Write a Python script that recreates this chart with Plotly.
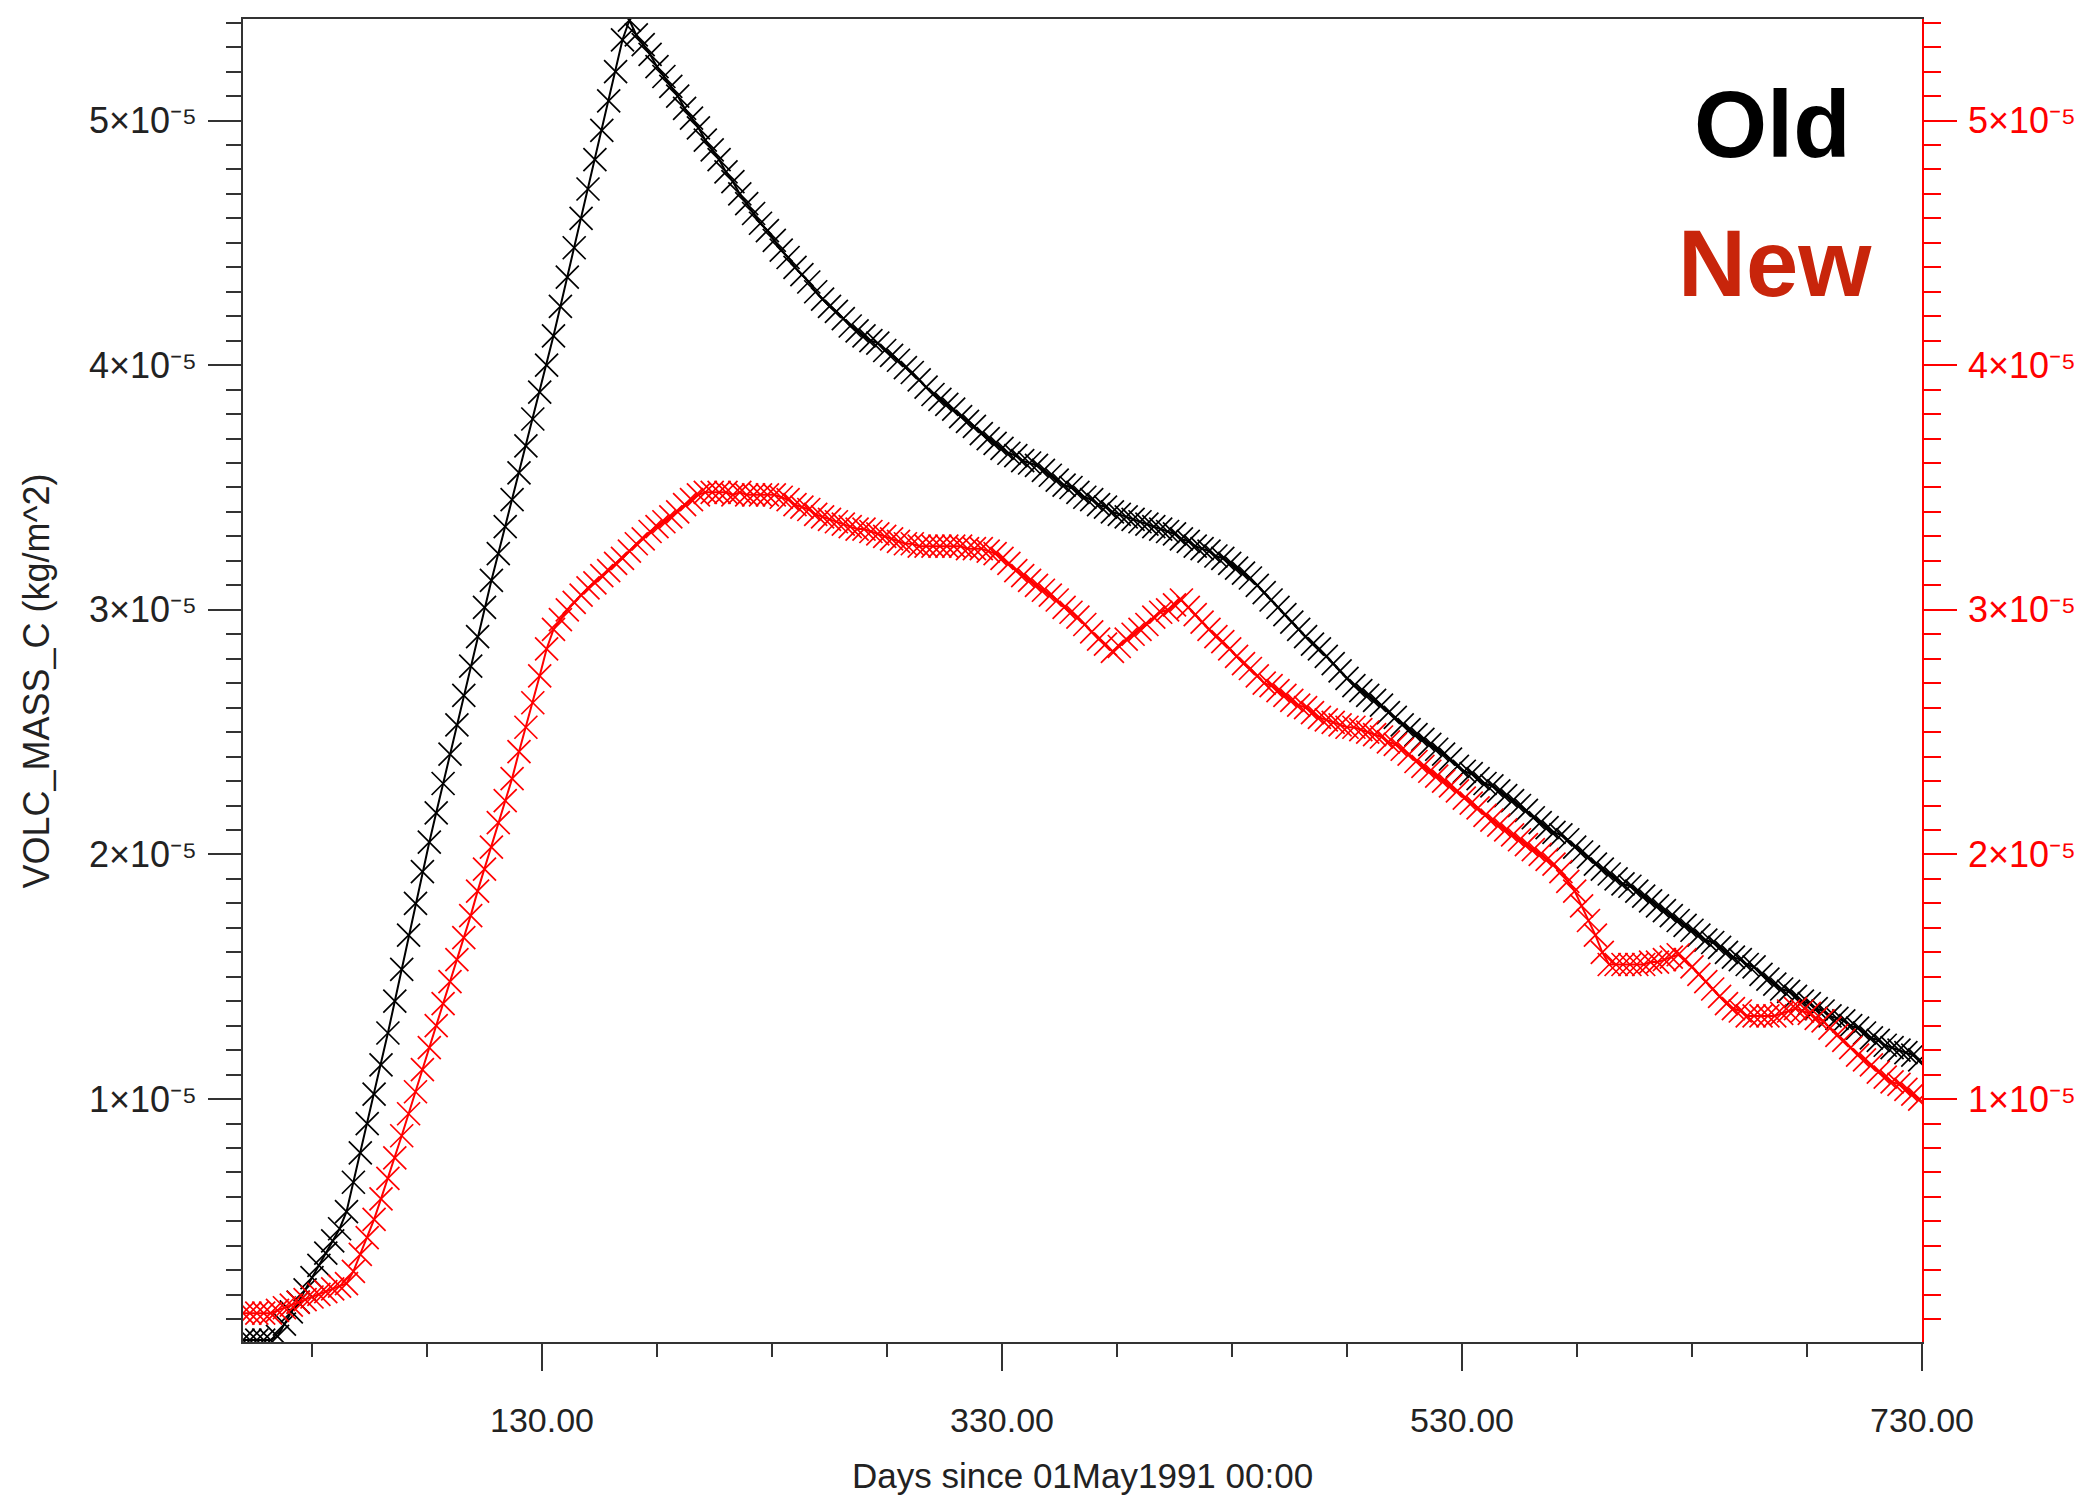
import plotly.graph_objects as go

# values in units of 1e-5 kg/m^2, sampled every 3 days starting at day 0
old_vals = [
    0.015, 0.015, 0.015, 0.015, 0.015, 0.03, 0.08, 0.13, 0.17, 0.22,
    0.27, 0.32, 0.37, 0.42, 0.47, 0.54, 0.66, 0.78, 0.90, 1.02,
    1.14, 1.27, 1.40, 1.53, 1.67, 1.80, 1.93, 2.05, 2.17, 2.29,
    2.41, 2.53, 2.65, 2.77, 2.89, 3.01, 3.12, 3.23, 3.34, 3.45,
    3.56, 3.67, 3.78, 3.89, 4.00, 4.12, 4.24, 4.36, 4.48, 4.60,
    4.72, 4.84, 4.96, 5.08, 5.20, 5.33, 5.41, 5.35, 5.31, 5.27,
    5.22, 5.18, 5.14, 5.10, 5.05, 5.01, 4.97, 4.92, 4.88, 4.84,
    4.79, 4.75, 4.70, 4.66, 4.62, 4.58, 4.55, 4.51, 4.47, 4.44,
    4.40, 4.37, 4.34, 4.30, 4.27, 4.24, 4.22, 4.19, 4.16, 4.14,
    4.12, 4.10, 4.09, 4.06, 4.04, 4.02, 3.99, 3.97, 3.94, 3.91,
    3.88, 3.86, 3.84, 3.82, 3.79, 3.77, 3.75, 3.72, 3.70, 3.68,
    3.66, 3.64, 3.63, 3.61, 3.60, 3.59, 3.57, 3.55, 3.53, 3.51,
    3.50, 3.48, 3.46, 3.45, 3.43, 3.42, 3.40, 3.39, 3.38, 3.37,
    3.36, 3.35, 3.34, 3.33, 3.32, 3.31, 3.29, 3.28, 3.26, 3.25,
    3.24, 3.22, 3.21, 3.19, 3.17, 3.15, 3.13, 3.10, 3.07, 3.04,
    3.01, 2.98, 2.95, 2.92, 2.89, 2.86, 2.84, 2.81, 2.78, 2.75,
    2.72, 2.69, 2.67, 2.65, 2.63, 2.61, 2.58, 2.56, 2.53, 2.51,
    2.49, 2.47, 2.45, 2.43, 2.41, 2.39, 2.36, 2.34, 2.33, 2.31,
    2.29, 2.28, 2.26, 2.24, 2.22, 2.20, 2.18, 2.15, 2.13, 2.11,
    2.09, 2.08, 2.06, 2.03, 2.01, 1.99, 1.96, 1.94, 1.92, 1.90,
    1.88, 1.87, 1.85, 1.83, 1.81, 1.79, 1.77, 1.75, 1.73, 1.71,
    1.69, 1.67, 1.65, 1.64, 1.62, 1.60, 1.58, 1.57, 1.55, 1.54,
    1.51, 1.49, 1.47, 1.45, 1.44, 1.42, 1.40, 1.39, 1.37, 1.36,
    1.34, 1.33, 1.32, 1.30, 1.29, 1.27, 1.25, 1.24, 1.22, 1.21,
    1.20, 1.19, 1.18, 1.16,
]

new_vals = [
    0.125, 0.125, 0.125, 0.125, 0.125, 0.136, 0.147, 0.158, 0.169, 0.18,
    0.191, 0.202, 0.213, 0.224, 0.235, 0.246, 0.296, 0.365, 0.434, 0.508,
    0.592, 0.676, 0.76, 0.85, 0.94, 1.03, 1.12, 1.21, 1.30, 1.39,
    1.48, 1.57, 1.66, 1.75, 1.85, 1.94, 2.03, 2.13, 2.22, 2.31,
    2.42, 2.52, 2.62, 2.73, 2.84, 2.92, 2.96, 3.00, 3.03, 3.06,
    3.09, 3.11, 3.14, 3.16, 3.19, 3.21, 3.24, 3.27, 3.29, 3.32,
    3.34, 3.36, 3.38, 3.40, 3.43, 3.45, 3.47, 3.48, 3.48, 3.48,
    3.48, 3.47, 3.48, 3.47, 3.47, 3.47, 3.47, 3.47, 3.46, 3.45,
    3.43, 3.42, 3.41, 3.39, 3.38, 3.37, 3.36, 3.35, 3.34, 3.33,
    3.33, 3.32, 3.31, 3.30, 3.29, 3.28, 3.27, 3.27, 3.26, 3.26,
    3.26, 3.26, 3.26, 3.26, 3.26, 3.25, 3.25, 3.25, 3.24, 3.23,
    3.21, 3.19, 3.16, 3.14, 3.12, 3.10, 3.08, 3.06, 3.04, 3.01,
    2.99, 2.97, 2.94, 2.91, 2.88, 2.86, 2.83, 2.85, 2.88, 2.90,
    2.92, 2.94, 2.97, 2.99, 3.00, 3.02, 3.04, 3.01, 2.98, 2.95,
    2.92, 2.89, 2.87, 2.84, 2.81, 2.78, 2.76, 2.73, 2.70, 2.69,
    2.67, 2.65, 2.63, 2.61, 2.60, 2.58, 2.56, 2.55, 2.54, 2.53,
    2.52, 2.52, 2.51, 2.50, 2.49, 2.48, 2.46, 2.45, 2.43, 2.41,
    2.38, 2.36, 2.34, 2.32, 2.30, 2.28, 2.26, 2.23, 2.21, 2.19,
    2.16, 2.14, 2.12, 2.10, 2.08, 2.06, 2.04, 2.02, 2.00, 1.98,
    1.96, 1.93, 1.89, 1.85, 1.79, 1.73, 1.67, 1.60, 1.55, 1.55,
    1.55, 1.55, 1.55, 1.55, 1.56, 1.56, 1.57, 1.58, 1.59, 1.57,
    1.54, 1.51, 1.48, 1.45, 1.42, 1.39, 1.37, 1.36, 1.34, 1.34,
    1.34, 1.34, 1.34, 1.35, 1.36, 1.37, 1.36, 1.35, 1.33, 1.32,
    1.29, 1.26, 1.24, 1.21, 1.18, 1.16, 1.14, 1.11, 1.09, 1.07,
    1.06, 1.04, 1.02, 1.00,
]

SCALE = 1e-5
old_days = [3 * i for i in range(len(old_vals))]
new_days = [3 * i for i in range(len(new_vals))]
old_y = [v * SCALE for v in old_vals]
new_y = [v * SCALE for v in new_vals]

x_tickvals = [130, 330, 530, 730]
x_ticktext = ["130.00", "330.00", "530.00", "730.00"]
y_tickvals = [1e-5, 2e-5, 3e-5, 4e-5, 5e-5]
y_ticktext = ["%d\u00d710\u207b\u2075" % k for k in range(1, 6)]

X_RANGE = [0, 730]
Y_RANGE = [0.007e-5, 5.415e-5]

FONT = "Liberation Sans, Arial, Helvetica, sans-serif"

fig = go.Figure()
fig.add_trace(go.Scatter(
    x=old_days, y=old_y, mode="lines+markers", name="Old",
    line=dict(color="black", width=2),
    marker=dict(symbol="x-thin-open", size=23, color="black",
                line=dict(color="black", width=1.7)),
    xaxis="x", yaxis="y", showlegend=False,
))
fig.add_trace(go.Scatter(
    x=new_days, y=new_y, mode="lines+markers", name="New",
    line=dict(color="#ff0000", width=2),
    marker=dict(symbol="x-thin-open", size=23, color="#ff0000",
                line=dict(color="#ff0000", width=1.7)),
    xaxis="x", yaxis="y2", showlegend=False,
))

axis_font = dict(family=FONT, size=34, color="#222222")
ytick_font = dict(family=FONT, size=36, color="#222222")

fig.update_layout(
    width=2083, height=1495,
    margin=dict(l=243, r=161, t=19, b=153, autoexpand=False),
    paper_bgcolor="white", plot_bgcolor="white",
    font=dict(family=FONT, size=34, color="#222222"),
    xaxis=dict(
        range=X_RANGE, tickmode="array", tickvals=x_tickvals, ticktext=x_ticktext,
        ticks="outside", ticklen=27, tickwidth=1.5, tickcolor="#333333",
        showline=True, linecolor="#333333", linewidth=2, mirror=True,
        showgrid=False, zeroline=False, automargin=False,
        tickfont=axis_font, ticklabelstandoff=20,
        minor=dict(tickmode="linear", tick0=30, dtick=50, ticks="outside", ticklen=13,
                   tickwidth=1.5, tickcolor="#333333", showgrid=False),
    ),
    yaxis=dict(
        range=Y_RANGE, tickmode="array", tickvals=y_tickvals, ticktext=y_ticktext,
        ticks="outside", ticklen=33, tickwidth=1.5, tickcolor="#333333",
        showline=True, linecolor="#333333", linewidth=1.5, showgrid=False, zeroline=False,
        automargin=False,
        tickfont=ytick_font, ticklabelstandoff=4,
        minor=dict(tickmode="linear", tick0=0, dtick=1e-6, ticks="outside", ticklen=15,
                   tickwidth=1.5, tickcolor="#333333", showgrid=False),
    ),
    yaxis2=dict(
        range=Y_RANGE, overlaying="y", side="right", anchor="x",
        tickmode="array", tickvals=y_tickvals, ticktext=y_ticktext,
        ticks="outside", ticklen=33, tickwidth=1.5, tickcolor="#ff0000",
        showline=True, linecolor="#ff0000", linewidth=1.5, showgrid=False, zeroline=False,
        automargin=False,
        tickfont=dict(family=FONT, size=36, color="#ff0000"), ticklabelstandoff=4,
        minor=dict(tickmode="linear", tick0=0, dtick=1e-6, ticks="outside", ticklen=17,
                   tickwidth=1.5, tickcolor="#ff0000", showgrid=False),
    ),
)

fig.add_annotation(
    text="Days since 01May1991 00:00", xref="paper", yref="paper",
    x=0.5, y=-0.101, xanchor="center", yanchor="middle", showarrow=False,
    font=dict(family=FONT, size=35, color="#222222"),
)
fig.add_annotation(
    text="VOLC_MASS_C (kg/m^2)", xref="paper", yref="paper",
    x=-0.1227, y=0.5, xanchor="center", yanchor="middle", textangle=-90, showarrow=False,
    font=dict(family=FONT, size=36, color="#222222"),
)
fig.add_annotation(
    text="<b>Old</b>", xref="paper", yref="paper",
    x=0.9107, y=0.920, xanchor="center", yanchor="middle", showarrow=False,
    font=dict(family=FONT, size=94, color="black"),
)
fig.add_annotation(
    text="<b>New</b>", xref="paper", yref="paper",
    x=0.9125, y=0.815, xanchor="center", yanchor="middle", showarrow=False,
    font=dict(family=FONT, size=94, color="#c8250b"),
)

fig.write_html("out.html")
